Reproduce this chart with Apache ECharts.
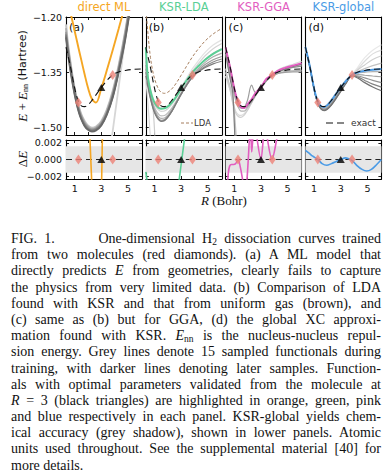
<!DOCTYPE html>
<html><head><meta charset="utf-8">
<script src="https://cdn.jsdelivr.net/npm/echarts@6/dist/echarts.min.js"></script>
<style>
html,body{margin:0;padding:0;background:#fff;}
#chart{position:absolute;left:0;top:0;width:392px;height:474px;}
#cap{position:absolute;left:11px;top:231px;width:370px;font-family:"Liberation Serif","DejaVu Serif",serif;font-size:14px;line-height:16.2px;color:#111;}
#cap div{text-align:justify;text-align-last:justify;height:16.2px;overflow:visible;}
#cap div.last{text-align-last:left;}
#cap sub{font-size:9.5px;line-height:0;vertical-align:-2px;}
</style></head><body>
<div id="chart"></div>
<div id="cap">
<div>FIG. 1. &nbsp;&nbsp;&nbsp;&nbsp; One-dimensional H<sub>2</sub> dissociation curves trained</div>
<div>from two molecules (red diamonds). (a) A ML model that</div>
<div>directly predicts <i>E</i> from geometries, clearly fails to capture</div>
<div>the physics from very limited data. (b) Comparison of LDA</div>
<div>found with KSR and that from uniform gas (brown), and</div>
<div>(c) same as (b) but for GGA, (d) the global XC approxi-</div>
<div>mation found with KSR. <i>E</i><sub>nn</sub> is the nucleus-nucleus repul-</div>
<div>sion energy. Grey lines denote 15 sampled functionals during</div>
<div>training, with darker lines denoting later samples. Function-</div>
<div>als with optimal parameters validated from the molecule at</div>
<div><i>R</i> = 3 (black triangles) are highlighted in orange, green, pink</div>
<div>and blue respectively in each panel. KSR-global yields chem-</div>
<div>ical accuracy (grey shadow), shown in lower panels. Atomic</div>
<div>units used throughout. See the supplemental material [40] for</div>
<div class="last">more details.</div>
</div>
<script>
// ---------------- data ----------------
const R_GRID = [0.35, 0.5, 0.7, 0.9, 1.1, 1.3, 1.5, 1.75, 2.0, 2.3, 2.6, 3.0, 3.4, 3.85, 4.3, 4.8, 5.4, 6.05];
const EXACT_E = [-1.282,-1.305,-1.337,-1.375,-1.408,-1.430,-1.441,-1.443,-1.438,-1.426,-1.411,-1.391,-1.373,-1.357,-1.349,-1.345,-1.342,-1.341];
const ORANGE_E = [-1.13,-1.155,-1.19,-1.222,-1.254,-1.286,-1.317,-1.356,-1.392,-1.423,-1.432,-1.393,-1.346,-1.29,-1.232,-1.165,-1.085,-1.0];
const GREEN_E = [-1.283,-1.36,-1.40,-1.424,-1.438,-1.446,-1.449,-1.448,-1.443,-1.432,-1.418,-1.394,-1.372,-1.350,-1.333,-1.316,-1.300,-1.287];
const LDA_E = [-1.17,-1.24,-1.31,-1.352,-1.378,-1.395,-1.404,-1.407,-1.404,-1.395,-1.381,-1.358,-1.334,-1.308,-1.286,-1.265,-1.246,-1.231];
const PINK_E = [-1.282,-1.307,-1.338,-1.376,-1.409,-1.430,-1.444,-1.447,-1.436,-1.423,-1.406,-1.391,-1.368,-1.357,-1.345,-1.338,-1.332,-1.325];
const BLUE_E = [-1.281,-1.304,-1.337,-1.376,-1.409,-1.430,-1.441,-1.444,-1.439,-1.426,-1.411,-1.391,-1.373,-1.357,-1.350,-1.346,-1.343,-1.341];

const N = null;
const GREY_A = [
  [N,N,N,N,N,N,N,N,N,N,N,N,-1.63,-1.51,-1.39,-1.255,-1.09,N],
  [-1.22,-1.27,-1.325,-1.372,-1.41,-1.44,-1.463,-1.482,-1.494,-1.5,-1.497,-1.482,-1.452,-1.40,-1.33,-1.235,-1.10,-0.95],
  [-1.23,-1.28,-1.33,-1.377,-1.415,-1.445,-1.467,-1.486,-1.497,-1.503,-1.5,-1.485,-1.456,-1.405,-1.335,-1.24,-1.10,-0.95],
  [-1.24,-1.285,-1.335,-1.38,-1.418,-1.448,-1.47,-1.488,-1.499,-1.505,-1.502,-1.488,-1.46,-1.41,-1.34,-1.245,-1.11,-0.95],
  [-1.245,-1.29,-1.34,-1.384,-1.421,-1.451,-1.473,-1.491,-1.502,-1.507,-1.504,-1.49,-1.462,-1.413,-1.343,-1.25,-1.11,-0.95],
  [-1.25,-1.295,-1.345,-1.388,-1.425,-1.454,-1.476,-1.494,-1.504,-1.509,-1.506,-1.492,-1.464,-1.416,-1.347,-1.255,-1.12,-0.96],
  [-1.255,-1.30,-1.35,-1.392,-1.428,-1.457,-1.478,-1.496,-1.506,-1.511,-1.508,-1.494,-1.466,-1.419,-1.35,-1.26,-1.12,-0.96]
];
const GREY_A_SHADE = ['#d6d6d6','#c4c4c4','#b0b0b0','#9c9c9c','#8a8a8a','#787878','#686868'];

const GREY_B = [
  [-1.30,-1.355,-1.395,-1.42,-1.435,-1.443,-1.446,-1.445,-1.44,-1.429,-1.414,-1.39,-1.366,-1.34,-1.318,-1.296,-1.276,-1.262],
  [-1.31,-1.36,-1.40,-1.427,-1.443,-1.452,-1.456,-1.455,-1.449,-1.437,-1.421,-1.397,-1.373,-1.347,-1.326,-1.305,-1.286,-1.272],
  [-1.33,-1.37,-1.405,-1.45,-1.58,N,N,N,N,N,N,N,N,N,N,N,N,N],
  [-1.32,-1.368,-1.408,-1.435,-1.452,-1.463,-1.468,-1.467,-1.46,-1.447,-1.43,-1.405,-1.38,-1.354,-1.334,-1.315,-1.298,-1.286],
  [-1.33,-1.373,-1.413,-1.44,-1.458,-1.47,-1.475,-1.474,-1.466,-1.452,-1.434,-1.408,-1.383,-1.358,-1.34,-1.323,-1.308,-1.298],
  [-1.34,-1.378,-1.416,-1.444,-1.463,-1.475,-1.48,-1.478,-1.47,-1.455,-1.436,-1.41,-1.385,-1.361,-1.344,-1.329,-1.316,-1.307],
  [-1.35,-1.383,-1.419,-1.447,-1.465,-1.477,-1.482,-1.48,-1.471,-1.456,-1.436,-1.41,-1.386,-1.363,-1.347,-1.334,-1.322,-1.314],
  [-1.36,-1.388,-1.422,-1.449,-1.467,-1.478,-1.483,-1.481,-1.472,-1.456,-1.436,-1.409,-1.385,-1.363,-1.349,-1.337,-1.327,-1.32],
  [-1.37,-1.43,-1.53,N,N,N,N,N,N,N,N,N,N,N,N,N,N,N]
];
const GREY_B_SHADE = ['#e2e2e2','#d4d4d4','#cccccc','#bdbdbd','#adadad','#9c9c9c','#8c8c8c','#7c7c7c','#d9d9d9'];

const GREY_C = [
  [-1.36,-1.378,-1.40,-1.44,-1.55,N,N,N,N,N,N,N,N,N,N,N,N,N],
  [-1.35,-1.37,-1.395,-1.43,-1.455,-1.465,-1.467,-1.462,-1.45,-1.432,-1.413,-1.39,-1.37,-1.355,-1.343,-1.335,-1.328,-1.32],
  [-1.36,-1.375,-1.40,-1.435,-1.46,-1.47,-1.472,-1.466,-1.453,-1.433,-1.414,-1.391,-1.372,-1.358,-1.349,-1.342,-1.336,-1.33],
  [-1.34,-1.365,-1.39,-1.42,-1.50,-1.62,N,N,N,N,N,N,N,N,N,N,N,N],
  [-1.30,-1.325,-1.36,-1.395,-1.425,-1.445,-1.455,-1.455,-1.445,-1.43,-1.41,-1.392,-1.374,-1.36,-1.352,-1.348,-1.346,-1.345],
  [-1.29,-1.315,-1.35,-1.385,-1.415,-1.437,-1.447,-1.445,-1.425,-1.385,-1.405,-1.394,-1.374,-1.36,-1.353,-1.35,-1.349,-1.349],
  [-1.285,-1.31,-1.342,-1.38,-1.412,-1.434,-1.445,-1.447,-1.44,-1.428,-1.412,-1.392,-1.372,-1.357,-1.348,-1.342,-1.337,-1.333],
  [-1.30,-1.33,-1.37,-1.41,-1.60,N,N,N,N,N,N,N,N,N,N,N,N,N],
  [-1.283,-1.306,-1.338,-1.376,-1.41,-1.432,-1.444,-1.446,-1.438,-1.425,-1.409,-1.389,-1.37,-1.356,-1.347,-1.34,-1.334,-1.328]
];
const GREY_C_SHADE = ['#e3e3e3','#dadada','#cfcfcf','#c2c2c2','#b2b2b2','#9f9f9f','#8d8d8d','#7f7f7f','#6f6f6f'];

const GREY_D = [
  [-1.29,-1.31,-1.34,-1.377,-1.409,-1.43,-1.44,-1.442,-1.436,-1.423,-1.408,-1.388,-1.37,-1.356,-1.335,-1.31,-1.29,-1.275],
  [-1.288,-1.309,-1.34,-1.377,-1.409,-1.43,-1.441,-1.443,-1.437,-1.424,-1.409,-1.389,-1.371,-1.357,-1.34,-1.32,-1.30,-1.29],
  [-1.287,-1.308,-1.339,-1.377,-1.41,-1.431,-1.442,-1.444,-1.438,-1.425,-1.41,-1.39,-1.372,-1.357,-1.343,-1.33,-1.315,-1.305],
  [-1.286,-1.307,-1.339,-1.377,-1.41,-1.432,-1.443,-1.446,-1.44,-1.428,-1.413,-1.393,-1.374,-1.357,-1.348,-1.34,-1.332,-1.325],
  [-1.285,-1.306,-1.338,-1.377,-1.411,-1.433,-1.445,-1.448,-1.443,-1.431,-1.416,-1.396,-1.376,-1.357,-1.352,-1.35,-1.348,-1.348],
  [-1.284,-1.306,-1.338,-1.377,-1.411,-1.434,-1.446,-1.45,-1.446,-1.434,-1.419,-1.398,-1.377,-1.358,-1.356,-1.358,-1.36,-1.362],
  [-1.283,-1.305,-1.337,-1.377,-1.412,-1.435,-1.447,-1.452,-1.448,-1.436,-1.421,-1.4,-1.378,-1.358,-1.36,-1.365,-1.372,-1.378],
  [-1.283,-1.305,-1.337,-1.377,-1.412,-1.436,-1.448,-1.453,-1.449,-1.438,-1.423,-1.401,-1.379,-1.359,-1.363,-1.372,-1.382,-1.39],
  [-1.282,-1.305,-1.337,-1.377,-1.412,-1.436,-1.449,-1.454,-1.45,-1.439,-1.424,-1.402,-1.38,-1.36,-1.366,-1.378,-1.39,-1.40]
];
const GREY_D_SHADE = ['#e8e8e8','#dcdcdc','#d0d0d0','#c2c2c2','#b3b3b3','#a3a3a3','#939393','#838383','#737373'];

// training molecules (diamonds) and validation molecule (triangle)
const DIAMOND_R = [1.28, 3.85];
const DIAMOND_E = [-1.432, -1.357];
const TRIANGLE_R = [3.0];
const TRIANGLE_E = [-1.391];

// lower panels: Delta E of highlighted functional
const ORANGE_DR = [2.0, 2.21, 2.42, 2.7, 2.95, 3.05, 3.15];
const ORANGE_DE = [0.0082, 0, -0.0082, -0.015, -0.0094, 0, 0.0094];
const GREEN_DR = [0.35, 0.45, 0.6, 2.5, 3.05, 3.6];
const GREEN_DE = [-0.0015, -0.0026, -0.006, -0.0068, 0, 0.0068];
const PINK_DR = [0.35,0.47,0.55,0.65,0.8,0.95,1.1,1.3,1.45,1.6,1.72,1.85,1.95,2.05,2.15,2.22,2.31,2.42,2.55,2.7,3.0,3.18,3.3,3.45,3.83,4.2,4.5,6.05];
const PINK_DE = [-0.006,-0.0035,-0.0017,-0.0008,-0.0006,-0.0006,-0.0005,0,-0.0009,-0.0022,-0.0035,-0.004,-0.0025,0,0.0028,0.0035,0.0009,0.0032,0.005,0.0026,0,0.0026,0.0045,0.0028,0,0.0026,0.005,0.01];
const BLUE_DR = [0.35,0.6,0.9,1.28,1.6,1.95,2.3,2.7,3.0,3.35,3.6,3.85,4.2,4.6,4.95,5.3,5.7,6.05];
const BLUE_DE = [0.0011,0.0008,0.0004,0,-0.0005,-0.0007,-0.0005,-0.0002,0,0.0002,0.0001,-0.0001,-0.0007,-0.0012,-0.0014,-0.0012,-0.0006,0];

const CHEM_ACC = 0.0016;
const TITLES = ['direct ML', 'KSR-LDA', 'KSR-GGA', 'KSR-global'];
const TAGS = ['(a)', '(b)', '(c)', '(d)'];
const LEGEND_TEXT = ['LDA', 'exact'];
const X_TICKS = [1, 2, 3, 4, 5];
const X_LABELS = [1, 3, 5];
const Y_TICKS_UP = [-1.5, -1.35, -1.2];
const Y_TICKS_LOW = [-0.002, 0, 0.002];

// ---------------- styles / layout ----------------
const COLORS = ['#F5A623', '#5ACF95', '#E25EC0', '#4A9BE6'];
const LDA_COLOR = '#A57D5C';
const DIAMOND_COLOR = '#EE8277';
const X_MIN = 0.35, X_MAX = 6.05;
const Y_UP = [-1.52, -1.20], Y_LOW = [-0.00236, 0.00236];
const PL = [66, 145.8, 225.6, 305.4], PW = 76;
const UP_TOP = 17, UP_H = 118, LOW_TOP = 140, LOW_H = 39;
const SANS = 'DejaVu Sans';

const chart = echarts.init(document.getElementById('chart'), null, {renderer: 'svg'});
const grid = [], xAxis = [], yAxis = [], series = [];
const minus = s => s.replace('-', '\u2212');

for (let g = 0; g < 8; g++) {
  const upper = g < 4, col = g % 4;
  grid.push({left: PL[col], width: PW, top: upper ? UP_TOP : LOW_TOP, height: upper ? UP_H : LOW_H});
  const line = {show: true, onZero: false, lineStyle: {color: '#000', width: 1.1}};
  const xt = {show: true, inside: true, length: 3, customValues: X_TICKS, lineStyle: {color: '#000', width: 0.9}};
  ['bottom', 'top'].forEach((pos, k) => {
    xAxis.push({gridIndex: g, type: 'value', min: X_MIN, max: X_MAX, position: pos,
      axisLine: line, axisTick: xt, splitLine: {show: false},
      axisLabel: {show: !upper && k === 0, customValues: X_LABELS, fontSize: 9.5, color: '#111', margin: 4, fontFamily: SANS}});
  });
  const yr = upper ? Y_UP : Y_LOW;
  const yticks = upper ? Y_TICKS_UP : Y_TICKS_LOW;
  ['left', 'right'].forEach((pos, k) => {
    yAxis.push({gridIndex: g, type: 'value', min: yr[0], max: yr[1], position: pos,
      axisLine: line, splitLine: {show: false},
      axisTick: {show: true, inside: true, length: 3, customValues: yticks, lineStyle: {color: '#000', width: 0.9}},
      axisLabel: {show: col === 0 && k === 0, customValues: yticks, fontSize: 9.5, color: '#111', margin: 4, fontFamily: SANS,
        formatter: v => minus(upper ? v.toFixed(2) : v.toFixed(3))}});
  });
}

const pairs = (xs, ys) => xs.map((x, i) => [x, ys[i] == null ? '-' : ys[i]]);
function curve(g, xs, ys, color, width, extra) {
  series.push(Object.assign({type: 'line', xAxisIndex: 2 * g, yAxisIndex: 2 * g, data: pairs(xs, ys),
    smooth: 0.35, showSymbol: false, symbol: 'none', silent: true, animation: false, clip: true,
    itemStyle: {color: color}, lineStyle: {color: color, width: width}, z: 2}, extra || {}));
}
function markers(g, diaY, triY) {
  series.push({type: 'scatter', xAxisIndex: 2 * g, yAxisIndex: 2 * g, symbol: 'diamond', symbolSize: [7, 10],
    itemStyle: {color: DIAMOND_COLOR}, data: pairs(DIAMOND_R, diaY), z: 6, silent: true, animation: false});
  series.push({type: 'scatter', xAxisIndex: 2 * g, yAxisIndex: 2 * g, symbol: 'triangle', symbolSize: [8, 7],
    itemStyle: {color: '#000'}, data: pairs(TRIANGLE_R, triY), z: 6, silent: true, animation: false});
}

const GREYS = [[GREY_A, GREY_A_SHADE], [GREY_B, GREY_B_SHADE], [GREY_C, GREY_C_SHADE], [GREY_D, GREY_D_SHADE]];
const HIGHLIGHT = [ORANGE_E, GREEN_E, PINK_E, BLUE_E];
const DELTAS = [[ORANGE_DR, ORANGE_DE, 0], [GREEN_DR, GREEN_DE, 0], [PINK_DR, PINK_DE, 0.3], [BLUE_DR, BLUE_DE, 0.3]];

for (let p = 0; p < 4; p++) {
  const [gs, shades] = GREYS[p];
  gs.forEach((ys, i) => curve(p, R_GRID, ys, shades[i], p === 0 ? 1.8 : 1.2));
  if (p === 1) curve(p, R_GRID, LDA_E, LDA_COLOR, 1, {z: 3, lineStyle: {color: LDA_COLOR, width: 1, type: [3, 2]}});
  curve(p, R_GRID, HIGHLIGHT[p], COLORS[p], 1.9, {z: 3});
  curve(p, R_GRID, EXACT_E, '#111', 1.1, {z: 4, lineStyle: {color: '#111', width: 1.1, type: [6, 4]}});
  markers(p, DIAMOND_E, TRIANGLE_E);

  // lower panel
  const g = p + 4;
  series.push({type: 'line', xAxisIndex: 2 * g, yAxisIndex: 2 * g, data: [[X_MIN, 0], [X_MAX, 0]], showSymbol: false, symbol: 'none',
    lineStyle: {color: '#222', width: 1, type: [6, 4]}, z: 3, silent: true, animation: false,
    markArea: {silent: true, itemStyle: {color: '#e6e6e6'}, data: [[{yAxis: -CHEM_ACC}, {yAxis: CHEM_ACC}]]}});
  const [dr, de, sm] = DELTAS[p];
  curve(g, dr, de, COLORS[p], 1.6, {z: 4, smooth: sm});
  markers(g, DIAMOND_R.map(() => 0), TRIANGLE_R.map(() => 0));
}

const graphic = [];
const txt = (x, y, text, style, extra) => graphic.push(Object.assign({type: 'text', x: x, y: y, silent: true,
  style: Object.assign({text: text, fill: '#111', align: 'center', verticalAlign: 'middle', textAlign: 'center', textVerticalAlign: 'middle'}, style)}, extra || {}));
for (let p = 0; p < 4; p++) {
  txt(PL[p] + PW / 2, 7, TITLES[p], {fill: COLORS[p], fontSize: 11.5, fontFamily: SANS});
  txt(PL[p] + 3, UP_TOP + 10, TAGS[p], {fontSize: 11, fontFamily: SANS, align: 'left', textAlign: 'left'});
}
// legend samples (panel b: LDA, panel d: exact)
graphic.push({type: 'line', silent: true, shape: {x1: 181, y1: 123, x2: 193, y2: 123},
  style: {stroke: LDA_COLOR, lineWidth: 1, lineDash: [3, 2]}});
txt(194, 123, LEGEND_TEXT[0], {fontSize: 8.5, fontFamily: SANS, fill: '#333', align: 'left', textAlign: 'left'});
graphic.push({type: 'line', silent: true, shape: {x1: 326, y1: 123, x2: 348, y2: 123},
  style: {stroke: '#111', lineWidth: 1.1, lineDash: [7, 4]}});
txt(351, 123, LEGEND_TEXT[1], {fontSize: 9, fontFamily: SANS, fill: '#333', align: 'left', textAlign: 'left'});

txt(22, 76, '{i|E}{o| + }{i|E}{s|nn}{h| (Hartree)}', {rich: {
  i: {fontFamily: 'Liberation Serif', fontStyle: 'italic', fontSize: 13, lineHeight: 14, fill: '#111'},
  o: {fontFamily: 'Liberation Serif', fontSize: 13, lineHeight: 14, fill: '#111'},
  s: {fontFamily: 'Liberation Serif', fontSize: 8, lineHeight: 8, verticalAlign: 'bottom', fill: '#111'},
  h: {fontFamily: SANS, fontSize: 11, lineHeight: 14, fill: '#111'}}}, {rotation: Math.PI / 2});
txt(22, 159, '{o|\u0394}{i|E}', {rich: {
  i: {fontFamily: 'Liberation Serif', fontStyle: 'italic', fontSize: 13, fill: '#111'},
  o: {fontFamily: 'Liberation Serif', fontSize: 13, fill: '#111'}}}, {rotation: Math.PI / 2});
txt(224, 200, '{i|R}{o| (Bohr)}', {rich: {
  i: {fontFamily: 'Liberation Serif', fontStyle: 'italic', fontSize: 13, fill: '#111'},
  o: {fontFamily: 'Liberation Serif', fontSize: 13, fill: '#111'}}});

chart.setOption({animation: false, grid: grid, xAxis: xAxis, yAxis: yAxis, series: series, graphic: graphic});
</script>
</body></html>
